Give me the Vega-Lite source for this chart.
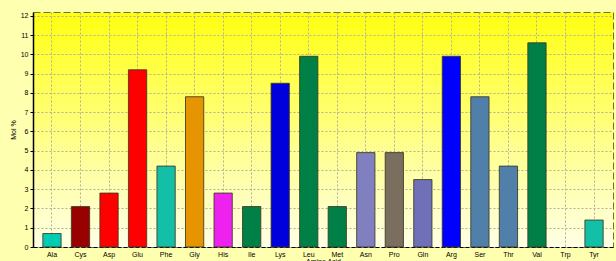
{
  "$schema": "https://vega.github.io/schema/vega-lite/v6.json",
  "autosize": "none",
  "width": 580,
  "height": 235,
  "padding": {"left": 33, "top": 12, "right": 3, "bottom": 14},
  "background": "#ffffb0",
  "config": {
    "view": {
      "fill": {"gradient": "linear", "x1": 0, "y1": 0, "x2": 0, "y2": 1,
        "stops": [{"offset": 0, "color": "#ffff10"}, {"offset": 0.5, "color": "#ffff80"}, {"offset": 1, "color": "#ffffe6"}]},
      "stroke": "#707030",
      "strokeWidth": 1,
      "strokeDash": [7, 3]
    },
    "axis": {
      "labelFont": "Liberation Sans",
      "titleFont": "Liberation Sans",
      "labelFontSize": 7,
      "titleFontSize": 7,
      "titleFontWeight": "normal",
      "labelColor": "#000000",
      "titleColor": "#000000",
      "gridColor": "#b0b098",
      "gridDash": [2, 2],
      "gridWidth": 1,
      "gridOpacity": 1
    }
  },
  "data": {
    "values": [
      {"aa": "Ala", "mol": 0.7, "c": "#00ccb4"},
      {"aa": "Cys", "mol": 2.1, "c": "#990000"},
      {"aa": "Asp", "mol": 2.8, "c": "#ff0000"},
      {"aa": "Glu", "mol": 9.2, "c": "#ff0000"},
      {"aa": "Phe", "mol": 4.2, "c": "#14bfa8"},
      {"aa": "Gly", "mol": 7.8, "c": "#e69500"},
      {"aa": "His", "mol": 2.8, "c": "#ee22ee"},
      {"aa": "Ile", "mol": 2.1, "c": "#008046"},
      {"aa": "Lys", "mol": 8.5, "c": "#0000dd"},
      {"aa": "Leu", "mol": 9.9, "c": "#008046"},
      {"aa": "Met", "mol": 2.1, "c": "#008046"},
      {"aa": "Asn", "mol": 4.9, "c": "#8080c0"},
      {"aa": "Pro", "mol": 4.9, "c": "#7a6e5e"},
      {"aa": "Gln", "mol": 3.5, "c": "#7070b8"},
      {"aa": "Arg", "mol": 9.9, "c": "#0000ff"},
      {"aa": "Ser", "mol": 7.8, "c": "#5080aa"},
      {"aa": "Thr", "mol": 4.2, "c": "#5080aa"},
      {"aa": "Val", "mol": 10.6, "c": "#008046"},
      {"aa": "Trp", "mol": 0, "c": "#008046"},
      {"aa": "Tyr", "mol": 1.4, "c": "#14bfa8"}
    ]
  },
  "mark": {"type": "bar", "stroke": "#3a3a20", "strokeWidth": 1},
  "encoding": {
    "x": {
      "field": "aa", "type": "nominal", "sort": null,
      "scale": {"paddingInner": 0.36, "paddingOuter": 0.345},
      "axis": {
        "title": "Amino Acid", "titlePadding": 0, "labelAngle": 0, "labelPadding": 3,
        "grid": true, "bandPosition": 0.5, "ticks": false,
        "domainColor": "#000000", "domainDash": [4, 2]
      }
    },
    "y": {
      "field": "mol", "type": "quantitative",
      "scale": {"domain": [0, 12.2], "nice": false},
      "axis": {
        "title": "Mol %", "titlePadding": 4, "values": [0,1,2,3,4,5,6,7,8,9,10,11,12],
        "grid": true, "tickSize": 3, "tickColor": "#000000", "labelPadding": 2,
        "domainColor": "#000000", "domainWidth": 1.5
      }
    },
    "fill": {"field": "c", "type": "nominal", "scale": null},
    "strokeOpacity": {"condition": {"test": "datum.mol == 0", "value": 0}, "value": 0.85}
  }
}
